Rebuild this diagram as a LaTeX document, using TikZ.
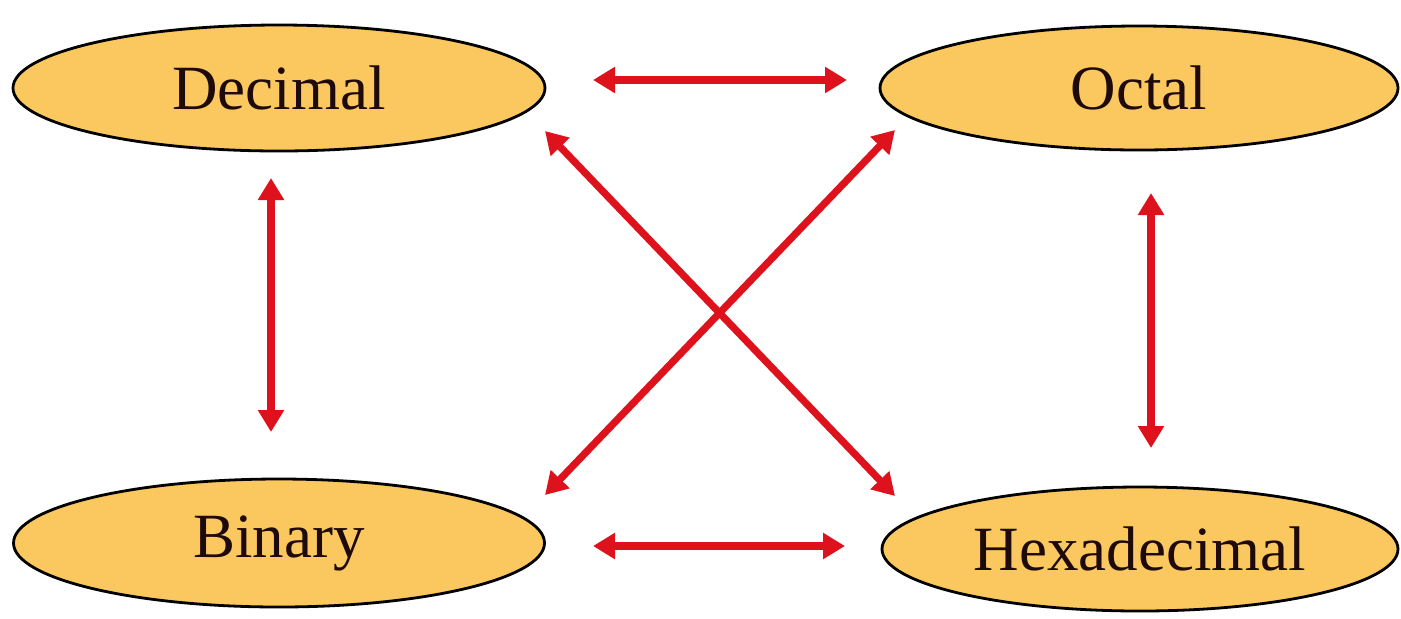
\documentclass[tikz,border=0pt]{standalone}
\usepackage{fontspec}
\setmainfont{Liberation Serif}
\usetikzlibrary{shapes.geometric,arrows.meta}
\definecolor{ellfill}{RGB}{250,200,95}
\definecolor{arrred}{RGB}{222,18,28}
\definecolor{txt}{RGB}{30,10,10}
\tikzset{
  numsys/.style={ellipse, draw=black, line width=1.4pt, fill=ellfill, inner sep=0pt,
    text=txt, font=\fontsize{31.5}{36}\selectfont},
  conv/.style={draw=arrred, line width=3.6pt,
    {Triangle[length=11pt,width=12.5pt]}-{Triangle[length=11pt,width=12.5pt]}}
}
\begin{document}
\begin{tikzpicture}[x=0.5pt,y=-0.5pt]
\useasboundingbox (0,0) rectangle (1401,618);
\fill[white] (0,0) rectangle (1401,618);
\node[numsys, minimum width=266pt, minimum height=63pt] (dec) at (279,88) {Decimal};
\node[numsys, minimum width=259pt, minimum height=62pt] (oct) at (1139,88) {Octal};
\node[numsys, minimum width=265.5pt, minimum height=64pt] (bin) at (279,543) {Binary};
\node[numsys, minimum width=258pt, minimum height=62pt] (hex) at (1140,549) {Hexadecimal};
% connector end points
\coordinate (dox1) at (593,80);  \coordinate (dox2) at (847,80);
\coordinate (bhx1) at (593,546); \coordinate (bhx2) at (845,546);
\coordinate (dby1) at (271,178); \coordinate (dby2) at (271,432);
\coordinate (ohy1) at (1151,193); \coordinate (ohy2) at (1151,448);
\coordinate (dh1) at (545,131); \coordinate (dh2) at (895,496);
\coordinate (ob1) at (895,130); \coordinate (ob2) at (545,495);
\draw[conv] (dox1) -- (dox2);
\draw[conv] (bhx1) -- (bhx2);
\draw[conv] (dby1) -- (dby2);
\draw[conv] (ohy1) -- (ohy2);
\draw[conv] (dh1) -- (dh2);
\draw[conv] (ob1) -- (ob2);
\end{tikzpicture}
\end{document}
